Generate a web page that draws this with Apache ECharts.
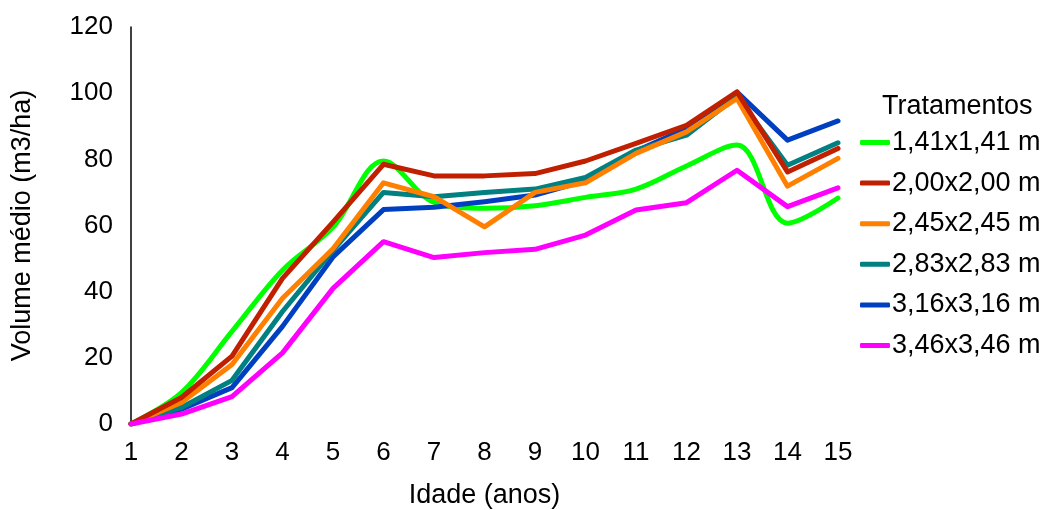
<!DOCTYPE html>
<html>
<head>
<meta charset="utf-8">
<script src="https://cdn.jsdelivr.net/npm/echarts@6/dist/echarts.min.js"></script>
<style>html,body{margin:0;padding:0;background:#fff}#c{width:1050px;height:510px}</style>
</head>
<body>
<div id="c"></div>
<script>
const ages = ['1','2','3','4','5','6','7','8','9','10','11','12','13','14','15'];
const names = ['1,41x1,41 m','2,00x2,00 m','2,45x2,45 m','2,83x2,83 m','3,16x3,16 m','3,46x3,46 m'];
const s141 = [0, 9.5, 28, 46.5, 59.5, 79.5, 67, 65.2, 66, 68.5, 71, 78, 84.3, 60.7, 68.3];
const s200 = [0, 8, 20.5, 44, 61, 78.5, 75, 75, 75.7, 79.5, 84.8, 90.3, 100.4, 76.2, 83.3];
const s245 = [0, 6.5, 18, 38, 53, 72.9, 68.7, 59.6, 70, 72.9, 81.8, 88.3, 98.4, 71.9, 80.3];
const s283 = [0, 5, 13.2, 34, 52.5, 70, 68.7, 70, 71, 74.5, 82.8, 87.3, 99, 78.2, 85];
const s316 = [0, 4.5, 11, 29.5, 50.5, 64.8, 65.5, 67.2, 69.2, 73.5, 82.5, 89.3, 100.3, 85.8, 91.6];
const s346 = [0, 3, 8.3, 21.5, 41, 55.1, 50.3, 51.8, 52.8, 57.1, 64.7, 66.9, 76.7, 65.7, 71.4];
const colors = ['#00ff00','#c02000','#ff8000','#008080','#0040c0','#ff00ff'];
const data = [s141, s200, s245, s283, s316, s346];
const zs = [1, 5, 4, 3, 2, 6];

const chart = echarts.init(document.getElementById('c'), null, {renderer:'canvas'});
const font = 'Liberation Sans, Arial, sans-serif';
chart.setOption({
  animation: false,
  backgroundColor: '#fff',
  title: {
    text: 'Tratamentos', left: 877, top: 88,
    textStyle: {fontFamily: font, fontSize: 27, fontWeight: 'normal', color: '#000'}
  },
  legend: {
    orient: 'vertical', left: 855, top: 124,
    icon: 'roundRect',
    itemWidth: 30, itemHeight: 5, itemGap: 13.6,
    textStyle: {fontFamily: font, fontSize: 27, color: '#000', lineHeight: 27, padding: [0,0,0,-3]},
    data: names
  },
  grid: {left: 131, right: 212, top: 27, bottom: 86, containLabel: false, outerBoundsMode: 'none'},
  xAxis: {
    type: 'category', data: ages, boundaryGap: false,
    axisLine: {show: false}, axisTick: {show: false},
    axisLabel: {fontFamily: font, fontSize: 26, color: '#000', margin: 16},
    name: 'Idade (anos)', nameLocation: 'middle', nameGap: 58,
    nameTextStyle: {fontFamily: font, fontSize: 27, color: '#000'}
  },
  yAxis: {
    type: 'value', min: 0, max: 120, interval: 20,
    axisLine: {show: true, lineStyle: {color: '#000', width: 1.5}},
    axisTick: {show: false}, splitLine: {show: false},
    axisLabel: {fontFamily: font, fontSize: 26, color: '#000', margin: 18},
    name: 'Volume médio (m3/ha)', nameLocation: 'middle', nameGap: 95,
    nameTextStyle: {fontFamily: font, fontSize: 27, color: '#000'}
  },
  series: names.map((n, i) => ({
    name: n, type: 'line', data: data[i],
    smooth: i === 0 ? 0.35 : false,
    showSymbol: false, symbol: 'none',
    z: zs[i],
    color: colors[i],
    lineStyle: {width: 5, color: colors[i], cap: 'round', join: 'round'}
  }))
});
</script>
</body>
</html>
